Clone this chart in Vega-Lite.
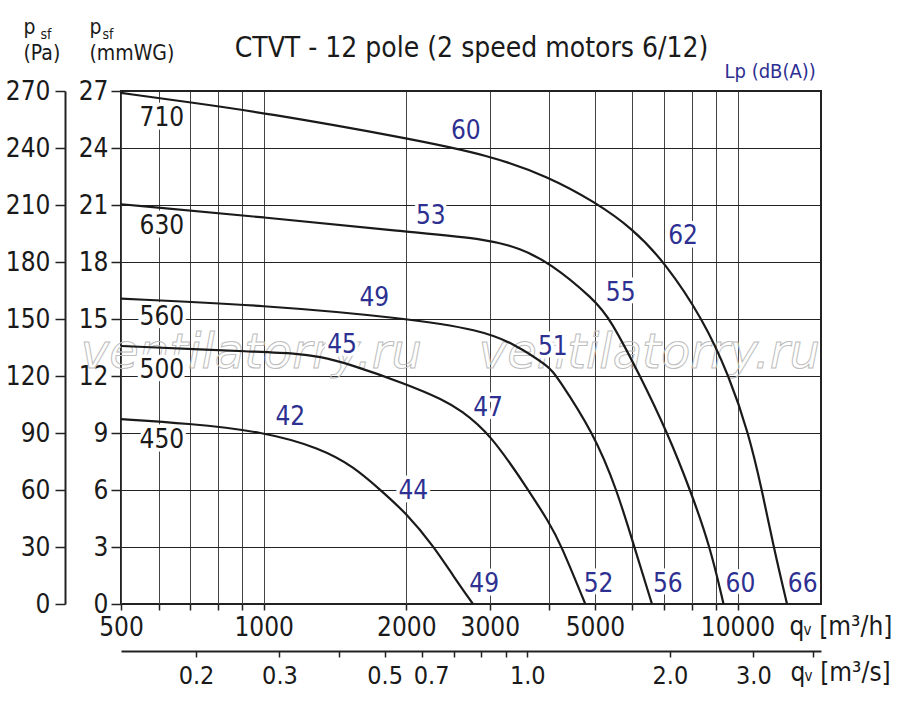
{
  "$schema": "https://vega.github.io/schema/vega-lite/v6.json",
  "description": "CTVT - 12 pole fan curves, static pressure against air flow",
  "width": 700,
  "height": 513,
  "autosize": {"type": "none"},
  "padding": {"left": 121, "top": 91, "right": 79, "bottom": 103},
  "background": "white",
  "datasets": {
    "curves": [
      {"size": "710", "q": 500, "p": 269}, {"size": "710", "q": 700, "p": 264}, {"size": "710", "q": 1000, "p": 258.6},
      {"size": "710", "q": 2000, "p": 245.3}, {"size": "710", "q": 3000, "p": 236.2}, {"size": "710", "q": 4000, "p": 224.8},
      {"size": "710", "q": 5000, "p": 211.6}, {"size": "710", "q": 6000, "p": 197.7}, {"size": "710", "q": 7015, "p": 180},
      {"size": "710", "q": 8450, "p": 150}, {"size": "710", "q": 9600, "p": 120}, {"size": "710", "q": 10549, "p": 90},
      {"size": "710", "q": 11261, "p": 60}, {"size": "710", "q": 11912, "p": 30}, {"size": "710", "q": 12718, "p": 0},

      {"size": "630", "q": 500, "p": 210.4}, {"size": "630", "q": 1000, "p": 203.6}, {"size": "630", "q": 2000, "p": 195.9},
      {"size": "630", "q": 3000, "p": 192}, {"size": "630", "q": 3474, "p": 187}, {"size": "630", "q": 4000, "p": 180},
      {"size": "630", "q": 5000, "p": 160}, {"size": "630", "q": 5387, "p": 150}, {"size": "630", "q": 6233, "p": 120},
      {"size": "630", "q": 7117, "p": 90}, {"size": "630", "q": 7948, "p": 60}, {"size": "630", "q": 8758, "p": 30},
      {"size": "630", "q": 9342, "p": 0},

      {"size": "560", "q": 500, "p": 160.7}, {"size": "560", "q": 1000, "p": 157.3}, {"size": "560", "q": 2000, "p": 150.4},
      {"size": "560", "q": 2866, "p": 144.2}, {"size": "560", "q": 3364, "p": 137.2}, {"size": "560", "q": 4000, "p": 125},
      {"size": "560", "q": 4150, "p": 120}, {"size": "560", "q": 4969, "p": 90}, {"size": "560", "q": 5567, "p": 60},
      {"size": "560", "q": 6056, "p": 30}, {"size": "560", "q": 6598, "p": 0},

      {"size": "500", "q": 500, "p": 135.8}, {"size": "500", "q": 1000, "p": 132.6}, {"size": "500", "q": 1157, "p": 132},
      {"size": "500", "q": 1317, "p": 130.2}, {"size": "500", "q": 1499, "p": 126.7}, {"size": "500", "q": 2000, "p": 115.8},
      {"size": "500", "q": 2398, "p": 107.4}, {"size": "500", "q": 2600, "p": 102.1}, {"size": "500", "q": 3000, "p": 89.9},
      {"size": "500", "q": 3610, "p": 60.5}, {"size": "500", "q": 4000, "p": 43}, {"size": "500", "q": 4227, "p": 32},
      {"size": "500", "q": 4772, "p": 0},

      {"size": "450", "q": 500, "p": 97.3}, {"size": "450", "q": 689, "p": 95.1}, {"size": "450", "q": 1000, "p": 90.7},
      {"size": "450", "q": 1317, "p": 82}, {"size": "450", "q": 1548, "p": 72.3}, {"size": "450", "q": 1762, "p": 60.1},
      {"size": "450", "q": 2000, "p": 47.8}, {"size": "450", "q": 2285, "p": 30.3}, {"size": "450", "q": 2516, "p": 14.5},
      {"size": "450", "q": 2765, "p": 0}
    ],
    "sizes": [
      {"t": "710", "q": 610, "p": 255.9},
      {"t": "630", "q": 610, "p": 199},
      {"t": "560", "q": 610, "p": 151.2},
      {"t": "500", "q": 610, "p": 123.2},
      {"t": "450", "q": 610, "p": 86.4}
    ],
    "db": [
      {"t": "60", "q": 2671, "p": 248.9},
      {"t": "53", "q": 2253, "p": 204.2},
      {"t": "49", "q": 1712, "p": 161.3},
      {"t": "45", "q": 1464, "p": 136.3},
      {"t": "42", "q": 1138, "p": 98.6},
      {"t": "44", "q": 2069, "p": 59.6},
      {"t": "47", "q": 2976, "p": 103.3},
      {"t": "51", "q": 4075, "p": 135.4},
      {"t": "55", "q": 5669, "p": 163.5},
      {"t": "62", "q": 7674, "p": 193.6},
      {"t": "49", "q": 2919, "p": 10.6},
      {"t": "52", "q": 5090, "p": 10.6},
      {"t": "56", "q": 7124, "p": 10.6},
      {"t": "60", "q": 10141, "p": 10.6},
      {"t": "66", "q": 13725, "p": 10.6}
    ],
    "wm": [
      {"t": "ventilatorry.ru", "q": 942, "p": 124.2},
      {"t": "ventilatorry.ru", "q": 6513, "p": 124.2}
    ]
  },
  "resolve": {"scale": {"x": "independent", "y": "independent"}},
  "layer": [
    {
      "data": {"name": "wm"},
      "mark": {"type": "text", "font": "DejaVu Sans", "fontSize": 48, "fontStyle": "italic", "fill": "transparent", "stroke": "#bdbdbd", "strokeWidth": 1, "align": "center", "baseline": "alphabetic"},
      "encoding": {
        "x": {"field": "q", "type": "quantitative", "scale": {"type": "log", "domain": [500, 15000], "nice": false},
          "axis": {"orient": "bottom", "offset": 47, "values": [720, 1080, 1440, 1800, 2160, 2520, 2880, 3240, 3600, 7200, 10800, 14400],
            "labelExpr": "datum.value == 720 ? '0.2' : datum.value == 1080 ? '0.3' : datum.value == 1800 ? '0.5' : datum.value == 2160 ? '0.7' : datum.value == 3600 ? '1.0' : datum.value == 7200 ? '2.0' : datum.value == 10800 ? '3.0' : ''",
            "labelOffset": {"condition": {"test": "datum.value == 2160", "value": 9}, "value": 0},
            "labelOverlap": false, "labelFlush": false, "labelDx": 3, "labelPadding": 6, "labelFontSize": 25, "tickSize": 6, "tickWidth": 1.5,
            "domain": true, "domainWidth": 2, "grid": false,
            "title": "q\u00a0\u00a0[m³/s]", "titleX": 669, "titleY": 29, "titleAlign": "left", "titleBaseline": "alphabetic"}},
        "y": {"field": "p", "type": "quantitative", "scale": {"domain": [0, 270], "nice": false},
          "axis": {"orient": "left", "offset": 56, "values": [0, 30, 60, 90, 120, 150, 180, 210, 240, 270],
            "tickSize": 10, "tickWidth": 1.5, "labelPadding": 5, "labelDy": 1.5, "domain": true, "domainWidth": 2, "grid": false,
            "title": ["\u00a0p", "(Pa)"], "titleAngle": 0, "titleX": -42, "titleY": -58, "titleAlign": "left", "titleBaseline": "alphabetic",
            "titleFontSize": 21, "titleLineHeight": 26}},
        "text": {"field": "t"}
      }
    },
    {
      "data": {"name": "sizes"},
      "mark": {"type": "text", "fontSize": 26, "fill": "white", "stroke": "white", "strokeWidth": 7, "strokeJoin": "round", "align": "center", "baseline": "middle"},
      "encoding": {
        "x": {"field": "q", "type": "quantitative", "scale": {"type": "log", "domain": [500, 15000], "nice": false},
          "axis": {"orient": "top", "domain": false, "ticks": false, "labels": false, "grid": false,
            "title": "CTVT - 12 pole (2 speed motors 6/12)", "titleX": 350, "titleY": -35, "titleAlign": "center", "titleBaseline": "alphabetic", "titleFontSize": 28}},
        "y": {"field": "p", "type": "quantitative", "scale": {"domain": [0, 270], "nice": false},
          "axis": {"orient": "left", "domain": false, "ticks": false, "labels": false, "grid": false,
            "title": "sf", "titleAngle": 0, "titleX": -81, "titleY": -53, "titleAlign": "left", "titleBaseline": "alphabetic", "titleFontSize": 14}},
        "text": {"field": "t"}
      }
    },
    {
      "data": {"name": "db"},
      "mark": {"type": "text", "fontSize": 26, "fill": "white", "stroke": "white", "strokeWidth": 7, "strokeJoin": "round", "align": "center", "baseline": "middle"},
      "encoding": {
        "x": {"field": "q", "type": "quantitative", "scale": {"type": "log", "domain": [500, 15000], "nice": false},
          "axis": {"orient": "top", "domain": false, "ticks": false, "labels": false, "grid": false,
            "title": "Lp (dB(A))", "titleX": 603, "titleY": -14, "titleAlign": "left", "titleBaseline": "alphabetic", "titleFontSize": 20, "titleColor": "#2d3091"}},
        "y": {"field": "p", "type": "quantitative", "scale": {"domain": [0, 270], "nice": false},
          "axis": {"orient": "left", "domain": false, "ticks": false, "labels": false, "grid": false,
            "title": "sf", "titleAngle": 0, "titleX": -19, "titleY": -53, "titleAlign": "left", "titleBaseline": "alphabetic", "titleFontSize": 14}},
        "text": {"field": "t"}
      }
    },
    {
      "data": {"name": "curves"},
      "mark": {"type": "line", "interpolate": "basis", "color": "#1a1a1a", "strokeWidth": 2.2},
      "encoding": {
        "x": {"field": "q", "type": "quantitative", "scale": {"type": "log", "domain": [500, 15000], "nice": false},
          "axis": {"orient": "bottom", "values": [500, 600, 700, 800, 900, 1000, 2000, 3000, 4000, 5000, 6000, 7000, 8000, 9000, 10000],
            "labelExpr": "indexof([500, 1000, 2000, 3000, 5000, 10000], datum.value) >= 0 ? format(datum.value, 'd') : ''",
            "labelOverlap": false, "labelFlush": false, "labelDx": 5, "labelPadding": 4, "tickSize": 6, "tickWidth": 1.5,
            "domain": false, "grid": true, "gridColor": "#444444", "gridWidth": 1,
            "title": "q\u00a0\u00a0[m³/h]", "titleX": 668, "titleY": 30, "titleAlign": "left", "titleBaseline": "alphabetic"}},
        "y": {"field": "p", "type": "quantitative", "scale": {"domain": [0, 270], "nice": false},
          "axis": {"orient": "left", "values": [0, 30, 60, 90, 120, 150, 180, 210, 240, 270],
            "labelExpr": "format(datum.value / 10, 'd')", "tickSize": 10, "tickWidth": 1.5, "labelPadding": 3, "labelDy": 1.5,
            "domain": false, "grid": true, "gridColor": "#222222", "gridWidth": 1,
            "title": ["p", "(mmWG)"], "titleAngle": 0, "titleX": -32, "titleY": -58, "titleAlign": "left", "titleBaseline": "alphabetic",
            "titleFontSize": 21, "titleLineHeight": 26}},
        "detail": {"field": "size"},
        "order": {"field": "q", "type": "quantitative"}
      }
    },
    {
      "data": {"name": "sizes"},
      "mark": {"type": "text", "fontSize": 26, "color": "#1a1a1a", "align": "center", "baseline": "middle"},
      "encoding": {
        "x": {"field": "q", "type": "quantitative", "scale": {"type": "log", "domain": [500, 15000], "nice": false},
          "axis": {"orient": "bottom", "domain": false, "ticks": false, "labels": false, "grid": false,
            "title": "v", "titleX": 682, "titleY": 30, "titleAlign": "left", "titleBaseline": "alphabetic", "titleFontSize": 15}},
        "y": {"field": "p", "type": "quantitative", "scale": {"domain": [0, 270], "nice": false}, "axis": null},
        "text": {"field": "t"}
      }
    },
    {
      "data": {"name": "db"},
      "mark": {"type": "text", "fontSize": 26, "color": "#2d3091", "align": "center", "baseline": "middle"},
      "encoding": {
        "x": {"field": "q", "type": "quantitative", "scale": {"type": "log", "domain": [500, 15000], "nice": false},
          "axis": {"orient": "bottom", "domain": false, "ticks": false, "labels": false, "grid": false,
            "title": "v", "titleX": 683, "titleY": 76, "titleAlign": "left", "titleBaseline": "alphabetic", "titleFontSize": 15}},
        "y": {"field": "p", "type": "quantitative", "scale": {"domain": [0, 270], "nice": false}, "axis": null},
        "text": {"field": "t"}
      }
    }
  ],
  "config": {
    "font": "Liberation Sans Narrow, DejaVu Sans Condensed, sans-serif",
    "view": {"stroke": "#222222", "strokeWidth": 2},
    "axis": {
      "labelFontSize": 26,
      "labelColor": "#1a1a1a",
      "titleColor": "#1a1a1a",
      "titleFontSize": 26,
      "titleFontWeight": "normal",
      "tickColor": "#222222",
      "domainColor": "#222222"
    }
  }
}
